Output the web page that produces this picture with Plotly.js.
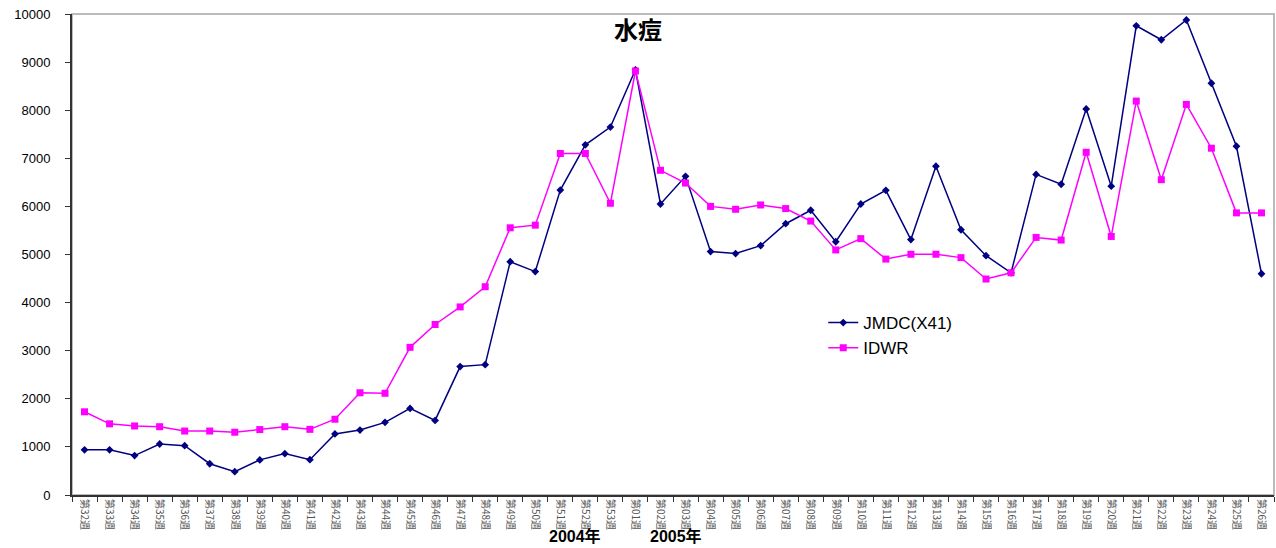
<!DOCTYPE html>
<html>
<head>
<meta charset="utf-8">
<script src="https://cdn.plot.ly/plotly-3.0.1.min.js"></script>
<style>html,body{margin:0;padding:0;background:#fff}#chart{width:1276px;height:548px}</style>
</head>
<body>
<div id="chart"></div>
<script>
const weeks = ["第32週","第33週","第34週","第35週","第36週","第37週","第38週","第39週","第40週","第41週","第42週","第43週","第44週","第45週","第46週","第47週","第48週","第49週","第50週","第51週","第52週","第53週",
"第01週","第02週","第03週","第04週","第05週","第06週","第07週","第08週","第09週","第10週","第11週","第12週","第13週","第14週","第15週","第16週","第17週","第18週","第19週","第20週","第21週","第22週","第23週","第24週","第25週","第26週"];
const jmdc = [940,940,820,1060,1025,650,485,730,860,735,1270,1350,1510,1800,1550,2670,2710,4850,4645,6340,7280,7650,8840,6050,6625,5060,5020,5185,5640,5920,5265,6050,6335,5310,6835,5515,4975,4620,6665,6460,8025,6420,9755,9465,9875,8560,7250,4600];
const idwr = [1730,1480,1435,1420,1330,1330,1305,1360,1420,1365,1575,2125,2115,3070,3545,3910,4330,5555,5610,7100,7100,6065,8815,6750,6485,6000,5940,6030,5955,5695,5095,5330,4905,5005,5005,4935,4490,4620,5355,5300,7125,5375,8190,6555,8120,7210,5865,5865];
const seriesNames = ["JMDC(X41)","IDWR"];
const titleText = "水痘";
const yearLabels = ["2004年","2005年"];

const traces = [
  {x: weeks, y: jmdc, name: seriesNames[0], type: "scatter", mode: "lines+markers",
   line: {color: "#000080", width: 1.5}, marker: {symbol: "diamond", size: 6, color: "#000080"}},
  {x: weeks, y: idwr, name: seriesNames[1], type: "scatter", mode: "lines+markers",
   line: {color: "#FF00FF", width: 1.5}, marker: {symbol: "square", size: 7, color: "#FF00FF"}}
];

const yearPos = [19.6, 23.6];

const layout = {
  width: 1276, height: 548,
  margin: {l: 72, r: 2, t: 14, b: 53},
  paper_bgcolor: "#fff", plot_bgcolor: "#fff",
  font: {family: "Arial, 'Liberation Sans', sans-serif", color: "#000"},
  title: {text: "<b>" + titleText + "</b>", x: 0.5, xref: "container", y: 0.945, yref: "container", yanchor: "middle",
          font: {family: "'Noto Sans CJK JP', sans-serif", size: 24, color: "#000"}},
  showlegend: true,
  legend: {x: 0.625, xanchor: "left", y: 0.395, yanchor: "top", bgcolor: "rgba(0,0,0,0)",
           font: {size: 17, family: "Arial, 'Liberation Sans', sans-serif"}, tracegroupgap: 0, itemwidth: 30},
  xaxis: {type: "category", range: [-0.5, 47.5], showgrid: false, zeroline: false,
          showline: true, linecolor: "#333", linewidth: 2,
          ticks: "outside", tickson: "boundaries", ticklen: 5, tickcolor: "#333",
          tickangle: 90, tickfont: {size: 10, color: "#555", family: "'Noto Sans CJK JP', sans-serif"}},
  yaxis: {range: [0, 10000], dtick: 1000, tickformat: "d", showgrid: false, zeroline: false,
          showline: true, linecolor: "#333", linewidth: 2,
          ticks: "outside", ticklen: 5, tickcolor: "#333", ticklabelstandoff: 12,
          tickfont: {size: 13, color: "#000"}},
  shapes: [{type: "rect", xref: "paper", yref: "paper", x0: 0, x1: 1, y0: 0, y1: 1,
            line: {color: "#bbbbbb", width: 2}, layer: "below"}],
  annotations: yearLabels.map((t, i) => ({
    text: "<b>" + t + "</b>", x: yearPos[i], xref: "x", y: 0, yref: "paper",
    yanchor: "top", yshift: -30, showarrow: false,
    font: {size: 16, color: "#000", family: "Arial, 'Noto Sans CJK JP', sans-serif"}
  }))
};

Plotly.newPlot("chart", traces, layout, {displayModeBar: false, staticPlot: true});
</script>
</body>
</html>
